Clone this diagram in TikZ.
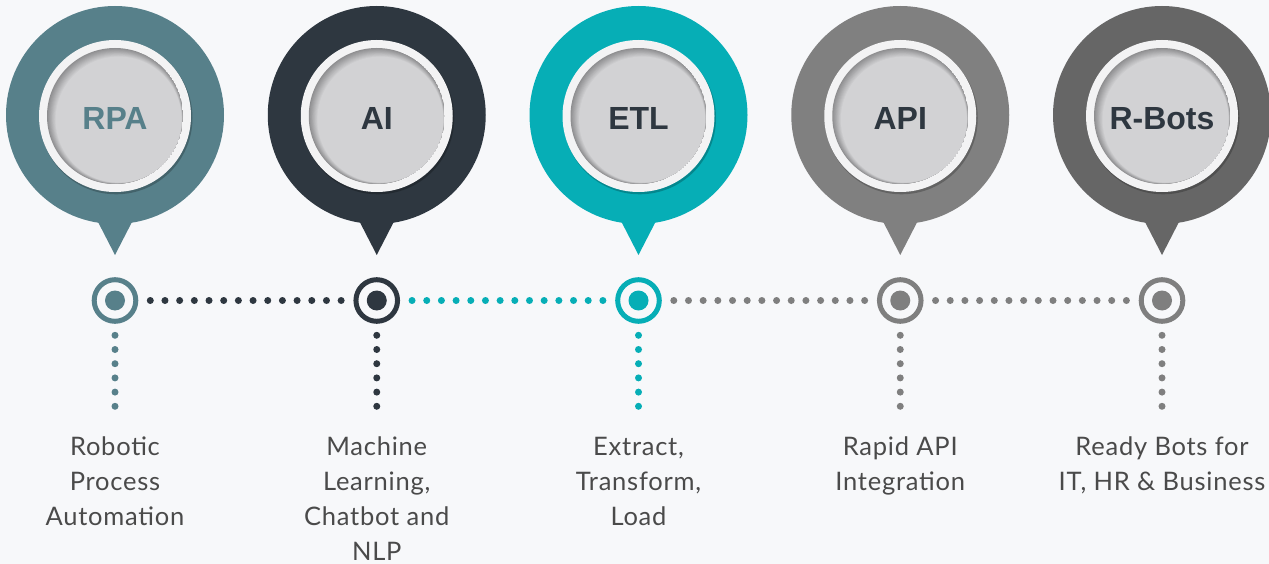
\documentclass[tikz,border=0pt]{standalone}
\usepackage{fontspec}
\setmainfont{Lato}[LetterSpace=3]
\newfontfamily\pinfont{Liberation Sans}
\definecolor{bg}{HTML}{F7F8FA}
\definecolor{cRPA}{HTML}{57808A}
\definecolor{cAI}{HTML}{2E3740}
\definecolor{cETL}{HTML}{06AEB6}
\definecolor{cAPI}{HTML}{808080}
\definecolor{cBOT}{HTML}{666666}
\definecolor{cTL}{HTML}{7F7F7F}
\definecolor{txt}{HTML}{4A4A4A}
\definecolor{ringc}{HTML}{F3F3F4}
\definecolor{discA}{HTML}{D2D2D4}
\definecolor{discC}{HTML}{8E8E90}
\tikzset{
  pinlbl/.style={font=\pinfont\bfseries\fontsize{32}{38}\selectfont, inner sep=0pt, anchor=base},
  desc/.style={font=\fontsize{25.5}{35}\selectfont, text=txt, align=center, inner sep=0pt, anchor=north},
  tl/.style={circle, draw=#1, line width=5pt, minimum size=41.6pt, inner sep=0pt, outer sep=0pt, fill=bg},
  hdots/.style={draw=#1, line width=7pt, line cap=round, dash pattern=on 0pt off 14.68pt, shorten <=14.5pt, shorten >=14.5pt},
  vdots/.style={draw=#1, line width=7pt, line cap=round, dash pattern=on 0pt off 14.2pt, shorten <=14pt}
}
\newcommand{\drawpin}[2]{%
  \fill[#2] (#1,115) circle (109);
  \fill[#2] (#1-28.3,200) -- (#1+28.3,200) -- (#1,255) -- cycle;
  \fill[black, opacity=0.22] (#1+1.2,118) circle (76.3);
  \fill[ringc] (#1,116) circle (76);
  \begin{scope}
    \clip (#1,116) circle (68);
    \foreach \i in {0,...,10}{
      \pgfmathsetmacro{\pc}{int(\i*10)}
      \fill[discA!\pc!discC] (#1+\i*0.36,116+\i*0.36) circle (68-\i*0.5);
    }
  \end{scope}
}
\begin{document}
\begin{tikzpicture}[x=1pt,y=-1pt]
\fill[bg] (0,0) rectangle (1269,564);
\useasboundingbox (0,0) rectangle (1269,564);

% pins
\drawpin{115}{cRPA}
\drawpin{376.75}{cAI}
\drawpin{638.5}{cETL}
\drawpin{900.25}{cAPI}
\drawpin{1162}{cBOT}

\node[pinlbl, text=cRPA] (pRPA) at (115,129.5) {RPA};
\node[pinlbl, text=cAI] (pAI) at (376.75,129.5) {AI};
\node[pinlbl, text=cAI] (pETL) at (638.5,129.5) {ETL};
\node[pinlbl, text=cAI] (pAPI) at (900.25,129.5) {API};
\node[pinlbl, text=cAI] (pBOT) at (1162,129.5) {R-Bots};

% timeline circles
\node[tl=cRPA] (t1) at (115,300.5) {};
\node[tl=cAI] (t2) at (376.75,300.5) {};
\node[tl=cETL] (t3) at (638.5,300.5) {};
\node[tl=cTL] (t4) at (900.25,300.5) {};
\node[tl=cTL] (t5) at (1162,300.5) {};

\foreach \n/\c in {t1/cRPA,t2/cAI,t3/cETL,t4/cTL,t5/cTL}{
  \fill[\c] (\n.center) circle (10);
}

% horizontal dotted connectors
\draw[hdots=cAI] (t1) -- (t2);
\draw[hdots=cETL] (t2) -- (t3);
\draw[hdots=cTL] (t3) -- (t4);
\draw[hdots=cTL] (t4) -- (t5);

% vertical dotted connectors
\coordinate (e1) at (115,408);
\coordinate (e2) at (376.75,408);
\coordinate (e3) at (638.5,408);
\coordinate (e4) at (900.25,408);
\coordinate (e5) at (1162,408);
\draw[vdots=cRPA] (t1) -- (e1);
\draw[vdots=cAI] (t2) -- (e2);
\draw[vdots=cETL] (t3) -- (e3);
\draw[vdots=cTL] (t4) -- (e4);
\draw[vdots=cTL] (t5) -- (e5);

% descriptions
\node[desc] (d1) at (115,437) {Robotic\\Process\\Automation};
\node[desc] (d2) at (376.75,437) {Machine\\Learning,\\Chatbot and\\NLP};
\node[desc] (d3) at (638.5,437) {Extract,\\Transform,\\Load};
\node[desc] (d4) at (900.25,437) {Rapid API\\Integration};
\node[desc] (d5) at (1162,437) {Ready Bots for\\IT, HR \& Business};
\end{tikzpicture}
\end{document}
